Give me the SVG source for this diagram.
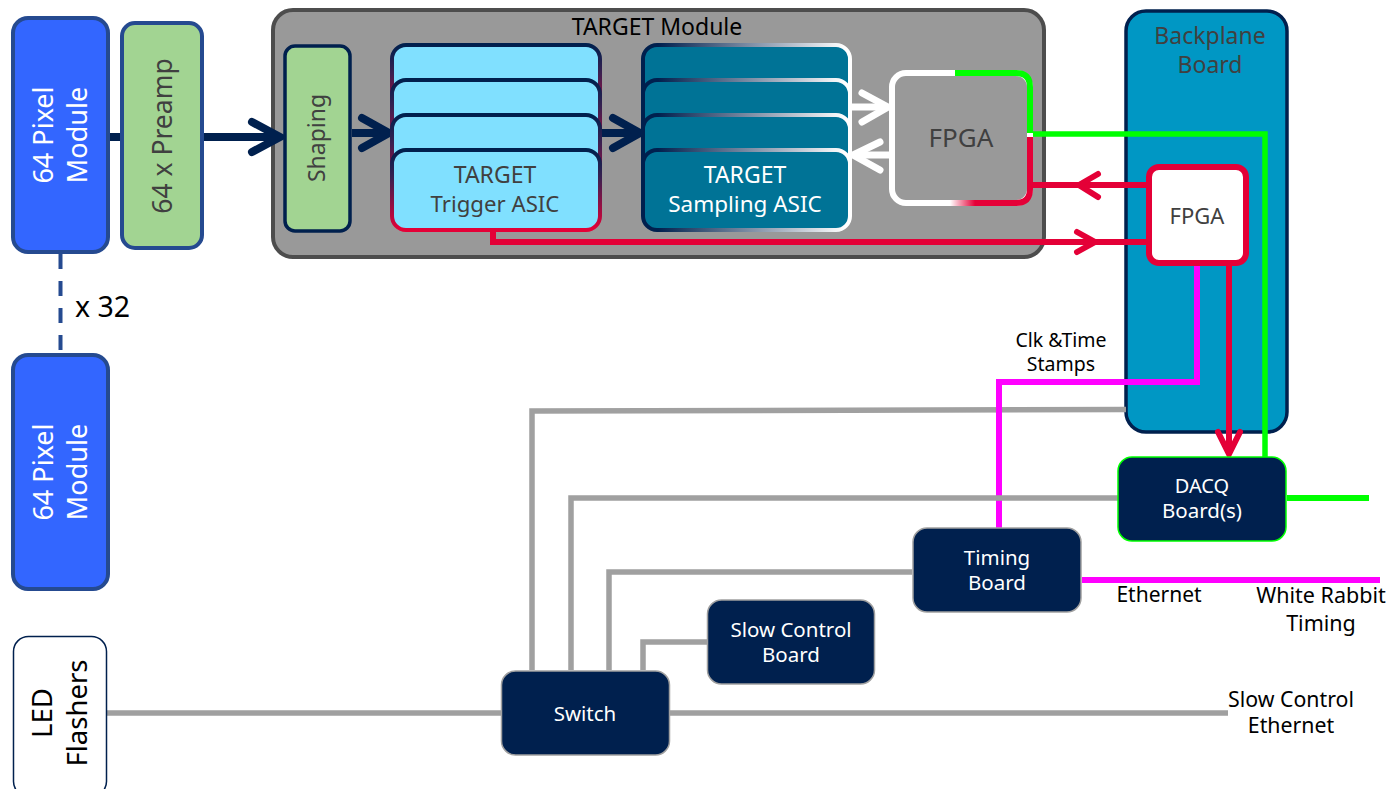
<svg xmlns="http://www.w3.org/2000/svg" width="1387" height="789" viewBox="0 0 1387 789">
<style>
text{font-family:"Noto Sans","Open Sans","Liberation Sans",sans-serif;text-anchor:middle}
.w{fill:#fff}.d{fill:#404040}.k{fill:#000}
.pix{fill:#3366ff;stroke:#254a90;stroke-width:4}
.pre{fill:#a2d492;stroke:#254a90;stroke-width:4}
.trg{fill:#80e0ff;stroke:url(#trgS);stroke-width:4}
.smp{fill:#007396;stroke:url(#smpS);stroke-width:4}
.box{fill:#00204e;stroke-width:1.5}
.c{fill:none;stroke-linejoin:miter}
.gy{stroke:#a0a0a0;stroke-width:5.5}
.nv{stroke:#00204e;stroke-width:8}
.hd{fill:none;stroke-linecap:round;stroke-linejoin:miter}
.rd{stroke:#e40037;stroke-width:6}
.wh{stroke:#fff;stroke-width:7}
.mg{stroke:#ff00ff;stroke-width:6}
.gr{stroke:#00ff00;stroke-width:5.5}
</style>
<defs>
<linearGradient id="trgS" x1="0" y1="0" x2="0" y2="1"><stop offset="0" stop-color="#00204e"/><stop offset="0.35" stop-color="#3a2050"/><stop offset="1" stop-color="#e40037"/></linearGradient>
<linearGradient id="smpS" gradientUnits="userSpaceOnUse" x1="658" y1="0" x2="845" y2="0"><stop offset="0" stop-color="#00204e"/><stop offset="1" stop-color="#fff"/></linearGradient>
<linearGradient id="fpRed" gradientUnits="userSpaceOnUse" x1="950" y1="0" x2="975" y2="0"><stop offset="0" stop-color="#fff"/><stop offset="1" stop-color="#e40037"/></linearGradient>
</defs>

<g id="target-module">
<rect x="273" y="10" width="771" height="247" rx="20" fill="#999" stroke="#4d4d4d" stroke-width="4"/>
<text class="k" x="657" y="35" font-size="23">TARGET Module</text>
</g>
<g id="backplane-board">
<rect x="1126" y="11" width="161" height="421" rx="20" fill="#0097c4" stroke="#00204e" stroke-width="3.5"/>
<text class="d" x="1210" y="44" font-size="23">Backplane</text>
<text class="d" x="1210" y="73" font-size="23">Board</text>
</g>

<g id="connectors">
<path class="c gy" d="M107 713H501M670 713H1228"/>
<path class="c gy" d="M1126 409.500L532 411V670"/>
<path class="c rd" d="M1149 185H1032"/>
<path class="hd rd" d="M1098 174L1079 185L1098 197"/>
<path class="c rd" d="M493 232V242H1149"/>
<path class="hd rd" d="M1077 232L1095 242L1077 252"/>
<path class="c rd" d="M1229 266V454"/>
<path class="hd rd" d="M1218 432L1229 454L1240 432"/>
<path class="c mg" d="M1197 263V382H999V528"/>
<path class="c gy" d="M1118 498H571V670"/>
<path class="c gy" d="M912 572H609V670"/>
<path class="c gy" d="M707 642H643V670"/>
<path class="c" stroke="#254a90" stroke-width="4" stroke-dasharray="15 12" d="M60.500 254V353"/>
<path class="c nv" d="M108 137H120M204 137H278"/>
<path class="hd nv" d="M252 122L280 137L252 152"/>
<path class="c nv" d="M352 133H388M602 133H639"/>
<path class="hd nv" d="M362 118L389 133L362 148M613 118L640 133L613 148"/>
<path class="c wh" d="M852 107H886M889 155H855"/>
<path class="hd wh" d="M862 93L888 107L862 122M880 142L853 155L880 170"/>
<path class="c gr" d="M1030 134H1265V457"/>
<path class="c gr" style="stroke-width:6" d="M1287 498H1369"/>
<path class="c mg" d="M1082 580H1380"/>
</g>

<g id="pixel-module-1">
<rect class="pix" x="13" y="18" width="95" height="234" rx="15"/>
<text class="w" transform="translate(53 135) rotate(-90)" font-size="27">64 Pixel</text>
<text class="w" transform="translate(87 135) rotate(-90)" font-size="27">Module</text>
</g>
<g id="pixel-module-2">
<rect class="pix" x="13" y="355" width="95" height="234" rx="15"/>
<text class="w" transform="translate(53 472) rotate(-90)" font-size="27">64 Pixel</text>
<text class="w" transform="translate(87 472) rotate(-90)" font-size="27">Module</text>
</g>
<g id="multiplicity"><text class="k" x="102.500" y="317" font-size="28.500">x 32</text></g>
<g id="preamp">
<rect class="pre" x="122" y="23" width="80" height="225" rx="13"/>
<text class="d" transform="translate(172 136) rotate(-90)" font-size="26.500">64 x Preamp</text>
</g>
<g id="shaping">
<rect x="285" y="46" width="65" height="185" rx="10" fill="#a2d492" stroke="#00204e" stroke-width="3.500"/>
<text class="d" transform="translate(325 138) rotate(-90)" font-size="23">Shaping</text>
</g>
<g id="trigger-asic">
<rect class="trg" x="392" y="45" width="208" height="80" rx="14"/>
<rect class="trg" x="392" y="80" width="208" height="80" rx="14"/>
<rect class="trg" x="392" y="115" width="208" height="80" rx="14"/>
<rect class="trg" x="392" y="150" width="208" height="80" rx="14"/>
<text class="d" x="495" y="183" font-size="23">TARGET</text>
<text class="d" x="495" y="212" font-size="22.200">Trigger ASIC</text>
</g>
<g id="sampling-asic">
<rect class="smp" x="643" y="45" width="207" height="80" rx="14"/>
<rect class="smp" x="643" y="80" width="207" height="80" rx="14"/>
<rect class="smp" x="643" y="115" width="207" height="80" rx="14"/>
<rect class="smp" x="643" y="150" width="207" height="80" rx="14"/>
<text class="w" x="745" y="183" font-size="23">TARGET</text>
<text class="w" x="745" y="212" font-size="22.500">Sampling ASIC</text>
</g>
<g id="module-fpga">
<rect x="892" y="73" width="138" height="130" rx="14" fill="#999" stroke="#fff" stroke-width="6"/>
<path fill="none" stroke="#00ff00" stroke-width="6" d="M955 73H1016Q1030 73 1030 87V133"/>
<path fill="none" stroke="#e40037" stroke-width="6" d="M1030 137V189Q1030 203 1016 203H975"/>
<path fill="none" stroke="url(#fpRed)" stroke-width="6" d="M975 203H950"/>
<text class="d" x="961" y="147" font-size="26">FPGA</text>
</g>
<g id="backplane-fpga">
<rect x="1149" y="167" width="97" height="96" rx="10" fill="#fff" stroke="#e40037" stroke-width="6"/>
<text class="d" x="1197" y="224" font-size="22">FPGA</text>
</g>
<g id="dacq-board">
<rect class="box" x="1118" y="457" width="168" height="84" rx="14" stroke="#00ff00"/>
<text class="w" x="1202" y="493" font-size="20">DACQ</text>
<text class="w" x="1202" y="518" font-size="20.500">Board(s)</text>
</g>
<g id="timing-board">
<rect class="box" x="913" y="528" width="168" height="84" rx="14" stroke="#a0a0a0"/>
<text class="w" x="997" y="565" font-size="20.500">Timing</text>
<text class="w" x="997" y="590" font-size="20.500">Board</text>
</g>
<g id="slow-control-board">
<rect class="box" x="707.500" y="600" width="167" height="84" rx="14" stroke="#a0a0a0"/>
<text class="w" x="791" y="637" font-size="20.500">Slow Control</text>
<text class="w" x="791" y="662" font-size="20.500">Board</text>
</g>
<g id="switch">
<rect class="box" x="501.500" y="671" width="168" height="84" rx="14" stroke="#a0a0a0"/>
<text class="w" x="585" y="721" font-size="20.500">Switch</text>
</g>
<g id="led-flashers">
<rect x="13.500" y="636.500" width="93" height="160" rx="15" fill="#fff" stroke="#00204e" stroke-width="1.500"/>
<text class="k" transform="translate(52 713) rotate(-90)" font-size="27.500">LED</text>
<text class="k" transform="translate(87 713) rotate(-90)" font-size="27.500">Flashers</text>
</g>
<g id="labels">
<text class="k" x="1061" y="347" font-size="19.500">Clk &amp;Time</text>
<text class="k" x="1061" y="371" font-size="19.500">Stamps</text>
<text class="k" x="1159" y="602" font-size="21">Ethernet</text>
<text class="k" x="1321" y="603" font-size="21.500">White Rabbit</text>
<text class="k" x="1321" y="631" font-size="21.500">Timing</text>
<text class="k" x="1291" y="707" font-size="21.300">Slow Control</text>
<text class="k" x="1291" y="733" font-size="21.300">Ethernet</text>
</g>
</svg>
